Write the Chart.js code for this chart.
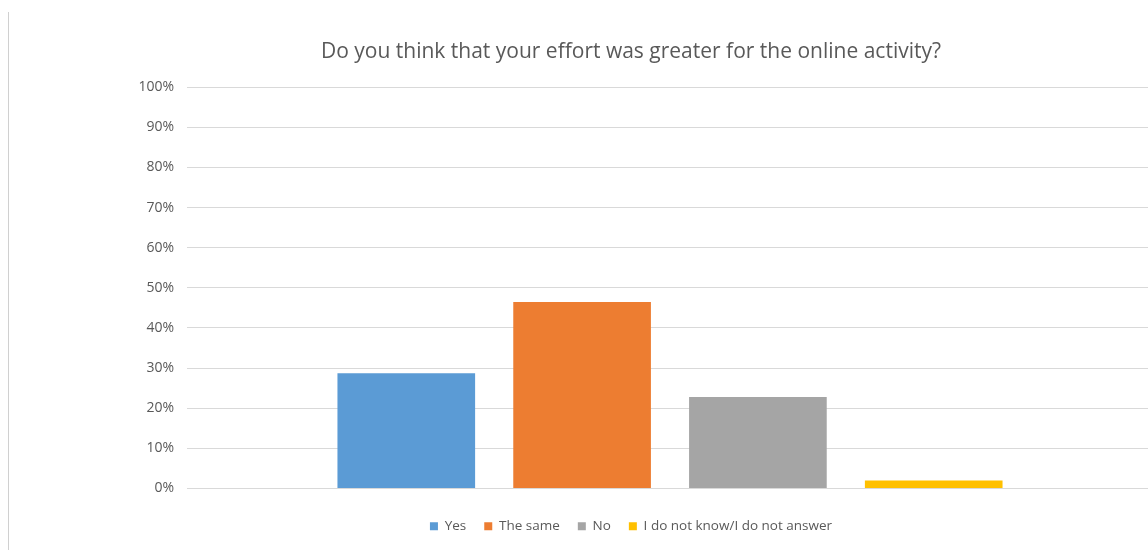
<!DOCTYPE html>
<html>
<head>
<meta charset="utf-8">
<script src="https://cdn.jsdelivr.net/npm/chart.js@4.4.1/dist/chart.umd.min.js"></script>
<style>
  html, body { margin: 0; padding: 0; background: #fff; overflow: hidden; }
  body { width: 1148px; height: 550px; position: relative; }
  #edge { position: absolute; left: 8px; top: 12px; width: 1px; height: 538px; background: #d0d0d0; }
  #wrap { position: absolute; left: 10px; top: 0; width: 1244px; height: 550px; }
</style>
</head>
<body>
<div id="edge"></div>
<div id="wrap"><canvas id="myChart"></canvas></div>
<script>
const categories = [''];
const seriesNames = ['Yes', 'The same', 'No', 'I do not know/I do not answer'];
const seriesValues = [28.7, 46.5, 22.8, 2.0];
const seriesColors = ['#5b9bd5', '#ed7d31', '#a5a5a5', '#ffc000'];
const yTicks = [0, 10, 20, 30, 40, 50, 60, 70, 80, 90, 100];

const textColor = '#595959';
const fontFamily = "'Open Sans', sans-serif";

let ctx = document.getElementById('myChart').getContext('2d');

const datasets = seriesNames.map((name, i) => ({
    label: name,
    data: [seriesValues[i]],
    backgroundColor: seriesColors[i],
    borderWidth: 0,
    categoryPercentage: 0.728,
    barPercentage: 0.783
}));

let myChart = new Chart(ctx, {
    type: 'bar',
    data: {
        labels: categories,
        datasets: datasets
    },
    options: {
        responsive: true,
        maintainAspectRatio: false,
        animation: false,
        layout: {
            padding: { left: 99, right: 101, top: 4, bottom: 7 }
        },
        scales: {
            x: {
                grid: { display: false },
                border: { display: false },
                ticks: { display: false },
                afterFit: axis => { axis.height += 5; }
            },
            y: {
                min: 0,
                max: 100,
                afterBuildTicks: axis => {
                    axis.ticks = yTicks.map(v => ({ value: v }));
                },
                afterFit: axis => { axis.width = 78; },
                grid: { color: '#d9d9d9', lineWidth: 1, drawTicks: false },
                border: { display: false },
                ticks: {
                    color: textColor,
                    padding: 13,
                    font: { family: fontFamily, size: 14 },
                    callback: v => v + '%'
                }
            }
        },
        plugins: {
            title: {
                display: true,
                text: 'Do you think that your effort was greater for the online activity?',
                color: textColor,
                font: { family: fontFamily, size: 21, weight: 'normal' },
                padding: { top: 35, bottom: 23 }
            },
            legend: {
                position: 'bottom',
                labels: {
                    color: textColor,
                    boxWidth: 8,
                    boxHeight: 8,
                    padding: 18,
                    font: { family: fontFamily, size: 13.5 }
                }
            },
            tooltip: { enabled: false }
        }
    }
});
</script>
</body>
</html>
